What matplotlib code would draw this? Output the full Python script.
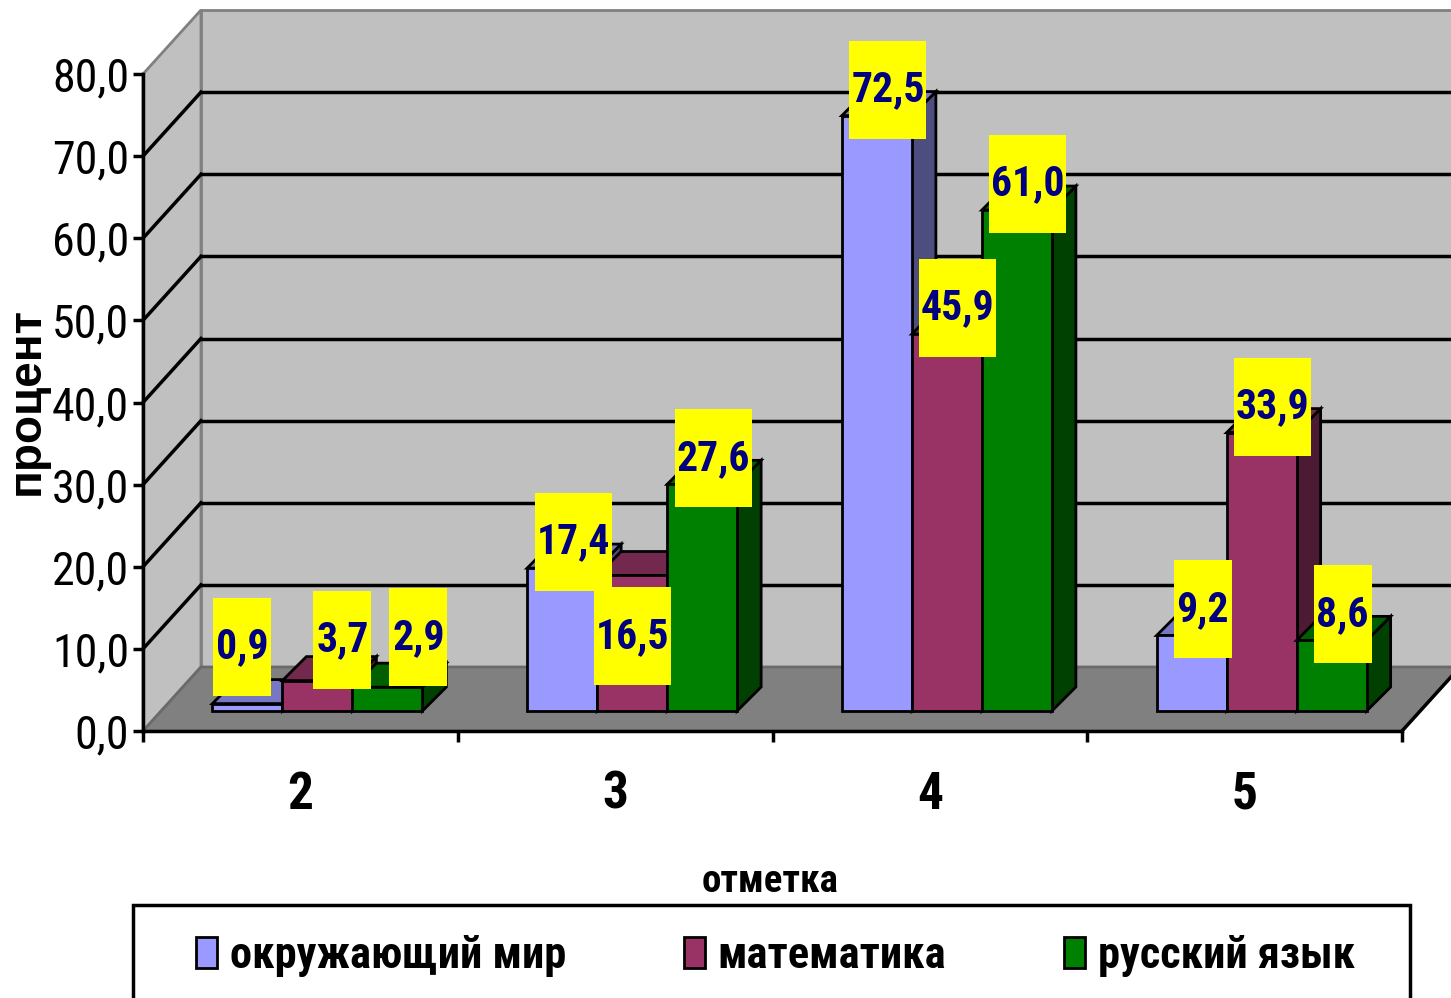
import matplotlib
matplotlib.use('Agg')
import matplotlib.pyplot as plt
from matplotlib.patches import Polygon, Rectangle, Patch
from matplotlib.ticker import FuncFormatter

# data
grades = ['2', '3', '4', '5']
subjects = ['окружающий мир', 'математика', 'русский язык']
okr_mir = [0.9, 17.4, 72.5, 9.2]
matem = [3.7, 16.5, 45.9, 33.9]
rus_yaz = [2.9, 27.6, 61.0, 8.6]
y_ticks = [0, 10, 20, 30, 40, 50, 60, 70, 80]

front_colors = ['#9999FF', '#993366', '#008000']
side_colors = ['#4D4D80', '#4D1A33', '#004000']
top_colors = ['#7777C4', '#73294D', '#006000']

# labels that were dragged by hand in the original (pixels: right, up)
label_nudge = {(0, 0): (-16, 31), (0, 1): (14, 15), (0, 2): (20, 24), (1, 1): (-11, -87)}

plt.rcParams['font.family'] = ['Roboto Condensed', 'DejaVu Sans']

W, H = 1451, 998
fig = plt.figure(figsize=(W / 100, H / 100), dpi=100)
ax = fig.add_axes([143 / W, 1 - 731 / H, 1259 / W, 657 / H])
ax.set_xlim(0, 4)
ax.set_ylim(0, 80)
ax.patch.set_visible(False)
PX = 4 / 1259   # data units per pixel
PY = 80 / 657

# walls and floor
wx, wy = 58 * PX, 64 * PY
ax.add_patch(Polygon([(0, 0), (0, 80), (wx, 80 + wy), (wx, wy)], closed=True,
                     fc='#C0C0C0', ec='#808080', lw=2, clip_on=False, zorder=0))
ax.add_patch(Polygon([(wx, wy), (4 + wx, wy), (4 + wx, 80 + wy), (wx, 80 + wy)], closed=True,
                     fc='#C0C0C0', ec='#808080', lw=2, clip_on=False, zorder=0))
ax.add_patch(Polygon([(0, 0), (4, 0), (4 + wx, wy), (wx, wy)], closed=True,
                     fc='#808080', ec='#6A6A6A', lw=2, clip_on=False, zorder=0.5))
ax.plot([4, 4 + wx], [0, wy], color='k', lw=2.5, clip_on=False, zorder=0.6)
for v in y_ticks[1:-1]:
    ax.plot([wx, 4 + wx], [v + wy, v + wy], color='k', lw=2.5, clip_on=False, zorder=1)
    ax.plot([0, wx], [v, v + wy], color='k', lw=2.5, clip_on=False, zorder=1)

# bars
series = [okr_mir, matem, rus_yaz]
bx0, by0 = 17 * PX, 20 * PY
bw = 70 * PX
ddx, ddy = 24 * PX, 24 * PY
for si, vals in enumerate(series):
    z = 3 + si
    xs = [ci + 0.5 + bx0 + (si - 1) * bw for ci in range(len(grades))]
    for x, v in zip(xs, vals):
        r = x + bw / 2
        l = x - bw / 2
        ax.add_patch(Polygon([(r, by0), (r + ddx, by0 + ddy), (r + ddx, by0 + v + ddy), (r, by0 + v)],
                             closed=True, fc=side_colors[si], ec='k', lw=2, zorder=z))
        ax.add_patch(Polygon([(l, by0 + v), (r, by0 + v), (r + ddx, by0 + v + ddy), (l + ddx, by0 + v + ddy)],
                             closed=True, fc=top_colors[si], ec='k', lw=2, zorder=z))
    ax.bar(xs, vals, width=bw, bottom=by0, color=front_colors[si], edgecolor='k',
           linewidth=2, zorder=z)

# data labels
for si, vals in enumerate(series):
    for ci, v in enumerate(vals):
        x = ci + 0.5 + bx0 + (si - 1) * bw
        nx, ny = label_nudge.get((ci, si), (0, 0))
        cx = x + (11 + nx) * PX
        cy = by0 + v + (26 + ny) * PY
        txt = f'{v:.1f}'.replace('.', ',')
        bwid = 20 + 19 * (len(txt) - 1)
        ax.add_patch(Rectangle((cx - bwid / 2 * PX, cy - 49 * PY), bwid * PX, 98 * PY,
                               fc='#FFFF00', ec='none', zorder=10, clip_on=False))
        ax.text(cx, cy, txt, ha='center', va='center', color='#000080',
                fontsize=30, fontweight='bold', zorder=11, clip_on=False)

# axes
for s in ['top', 'right']:
    ax.spines[s].set_visible(False)
for s in ['left', 'bottom']:
    ax.spines[s].set_linewidth(2.5)
ax.set_yticks(y_ticks)
ax.yaxis.set_major_formatter(FuncFormatter(lambda v, _: f'{v:.1f}'.replace('.', ',')))
ax.tick_params(axis='y', direction='out', length=7, width=2.5, pad=3, labelsize=33)
ax.set_xticks([0, 1, 2, 3, 4])
ax.set_xticklabels([])
ax.set_xticks([ci + 0.5 for ci in range(len(grades))], minor=True)
ax.set_xticklabels(grades, minor=True, fontsize=37, fontweight='bold')
ax.tick_params(axis='x', which='major', direction='out', length=8, width=2.5)
ax.tick_params(axis='x', which='minor', length=0, pad=28)

ax.set_xlabel('отметка', fontsize=28, fontweight='bold')
ax.xaxis.set_label_coords((770 - 143) / 1259, (731 - 882) / 657)
ax.xaxis.label.set_va('center')
ax.set_ylabel('процент', fontsize=33, fontweight='bold', family='Liberation Sans')
ax.yaxis.set_label_coords((27 - 143) / 1259, (731 - 401) / 657)
ax.yaxis.label.set_va('center')

# legend: frame drawn separately so the entries can sit inset from it
fig.add_artist(Rectangle((133 / W, -0.05), (1410 - 133) / W, 0.05 + 1 - 905 / H,
                         transform=fig.transFigure, fc='white', ec='k', lw=2.5, zorder=1))
handles = [Patch(fc=c, ec='k', lw=2) for c in front_colors]
leg = fig.legend(handles, subjects, loc='upper left',
                 bbox_to_anchor=(196 / W, 0.0, (1355 - 196) / W, 1 - 935 / H),
                 mode='expand', ncol=3, prop={'weight': 'bold', 'size': 32},
                 frameon=False, borderaxespad=0, borderpad=0,
                 handlelength=0.47, handleheight=0.7, handletextpad=0.29)
leg.set_zorder(2)

fig.savefig('out.png', dpi=100)
